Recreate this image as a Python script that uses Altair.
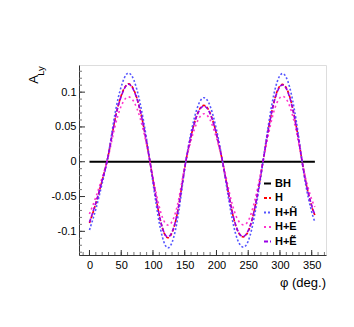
import altair as alt
import pandas as pd

phi = [0, 10, 20, 30, 40, 50, 60, 70, 80, 90, 100, 110, 120, 130, 140, 150, 160, 170,
       180, 190, 200, 210, 220, 230, 240, 250, 260, 270, 280, 290, 300, 310, 320, 330,
       340, 350, 355]

bh = [0.0] * len(phi)
h = [-0.088, -0.060, -0.027, 0.011, 0.060, 0.095, 0.1115, 0.103, 0.073, 0.028,
     -0.026, -0.077, -0.107, -0.102, -0.066, -0.009, 0.037, 0.069, 0.081, 0.070,
     0.040, -0.002, -0.051, -0.091, -0.1075, -0.100, -0.068, -0.018, 0.037, 0.084,
     0.109, 0.106, 0.077, 0.028, -0.026, -0.064, -0.0765]
h_ht = [-0.098, -0.068, -0.031, 0.012, 0.068, 0.108, 0.127, 0.117, 0.083, 0.032,
        -0.030, -0.088, -0.121, -0.116, -0.075, -0.010, 0.042, 0.078, 0.092, 0.080,
        0.046, -0.002, -0.058, -0.103, -0.122, -0.114, -0.077, -0.020, 0.042, 0.095,
        0.124, 0.121, 0.088, 0.032, -0.030, -0.072, -0.086]
h_e = [-0.075, -0.051, -0.023, 0.009, 0.050, 0.080, 0.093, 0.086, 0.062, 0.024,
       -0.022, -0.065, -0.089, -0.086, -0.056, -0.007, 0.031, 0.058, 0.069, 0.060,
       0.034, -0.001, -0.043, -0.076, -0.090, -0.085, -0.057, -0.015, 0.031, 0.071,
       0.092, 0.090, 0.066, 0.024, -0.022, -0.054, -0.065]
h_et = [-0.087, -0.059, -0.027, 0.011, 0.060, 0.094, 0.111, 0.102, 0.073, 0.028,
        -0.026, -0.077, -0.106, -0.101, -0.066, -0.009, 0.037, 0.068, 0.080, 0.069,
        0.040, -0.002, -0.051, -0.090, -0.107, -0.099, -0.068, -0.018, 0.037, 0.083,
        0.108, 0.105, 0.076, 0.028, -0.026, -0.063, -0.076]

names = ["BH", "H", "H+H\u0303", "H+E", "H+\u1EBC"]
colors = ["#000000", "#ff0000", "#5555ff", "#ff33cc", "#9900e6"]
dashes = [[1, 0], [3, 2], [2, 2], [2, 3], [4, 2]]
series = [bh, h, h_ht, h_e, h_et]

y_major = [-0.1, -0.05, 0, 0.05, 0.1]
y_minor = [round(-0.13 + 0.01 * i, 2) for i in range(27)]
x_major = [0, 50, 100, 150, 200, 250, 300, 350]
x_minor = list(range(-10, 371, 10))

rows = []
for n, vals in zip(names, series):
    for p, v in zip(phi, vals):
        rows.append({"phi": p, "A": v, "s": n})
df = pd.DataFrame(rows)

W, H = 247, 190
xs = alt.Scale(domain=[-16.5, 372.5], nice=False, zero=False)
ys = alt.Scale(domain=[-0.134, 0.139], nice=False, zero=False)
FONT = "Liberation Sans"

x_axis = alt.Axis(values=x_major, ticks=False, grid=False, title=None, labelPadding=4,
                  labelFontSize=11, labelFont=FONT, labelColor="#000",
                  domainColor="#333", labelFlush=False)
y_axis = alt.Axis(values=y_major, ticks=False, grid=False, title=None, labelPadding=3,
                  labelFontSize=11, labelFont=FONT, labelColor="#000",
                  domainColor="#333", labelExpr="'' + datum.value")

lines = alt.Chart(df).mark_line(interpolate="natural", clip=True).encode(
    x=alt.X("phi:Q", scale=xs, axis=x_axis),
    y=alt.Y("A:Q", scale=ys, axis=y_axis),
    color=alt.Color("s:N", scale=alt.Scale(domain=names, range=colors),
                    legend=alt.Legend(title=None, orient="none", legendX=183, legendY=113,
                                      symbolType="stroke", symbolSize=49,
                                      symbolStrokeWidth=2, labelFont=FONT,
                                      labelFontSize=11, labelFontWeight="bold",
                                      labelColor="#000", rowPadding=2.5, labelOffset=2,
                                      padding=0)),
    strokeDash=alt.StrokeDash("s:N", scale=alt.Scale(domain=names, range=dashes),
                              legend=None),
    strokeWidth=alt.condition(alt.datum.s == "BH", alt.value(2.2), alt.value(1.6)),
    detail="s:N",
)

ymaj = alt.Chart(pd.DataFrame({"v": y_major})).mark_rule(color="#333", strokeWidth=1).encode(
    y=alt.Y("v:Q", scale=ys, axis=y_axis), x=alt.value(0), x2=alt.value(6))
ymin = alt.Chart(pd.DataFrame({"v": y_minor})).mark_rule(color="#777", strokeWidth=1).encode(
    y=alt.Y("v:Q", scale=ys, axis=y_axis), x=alt.value(0), x2=alt.value(3))
xmaj = alt.Chart(pd.DataFrame({"v": x_major})).mark_rule(color="#333", strokeWidth=1).encode(
    x=alt.X("v:Q", scale=xs, axis=x_axis), y=alt.value(H), y2=alt.value(H - 5))
xmin = alt.Chart(pd.DataFrame({"v": [v for v in x_minor if -16.5 < v < 372.5]})).mark_rule(
    color="#777", strokeWidth=1).encode(
    x=alt.X("v:Q", scale=xs, axis=x_axis), y=alt.value(H), y2=alt.value(H - 3))

t_a = alt.Chart(pd.DataFrame({"t": ["A"]})).mark_text(
    angle=270, font=FONT, fontSize=13, align="center", baseline="middle", color="#000"
).encode(text="t:N", x=alt.value(-45), y=alt.value(14.5))
t_ly = alt.Chart(pd.DataFrame({"t": ["Ly"]})).mark_text(
    angle=270, font=FONT, fontSize=9.5, align="center", baseline="middle", color="#000"
).encode(text="t:N", x=alt.value(-38.5), y=alt.value(6))
t_x = alt.Chart(pd.DataFrame({"t": ["\u03c6 (deg.)"]})).mark_text(
    font=FONT, fontSize=13, align="right", baseline="middle", color="#000"
).encode(text="t:N", x=alt.value(W), y=alt.value(218))

chart = alt.layer(lines, xmin, xmaj, ymin, ymaj, t_a, t_ly, t_x).properties(
    width=W, height=H,
    autosize=alt.AutoSizeParams(type="none"),
    padding={"left": 71, "top": 57, "right": 20, "bottom": 60},
).configure_view(stroke="#555", strokeWidth=1).configure(background="white")

chart.save("out.html", embed_options={"renderer": "svg", "actions": False})
